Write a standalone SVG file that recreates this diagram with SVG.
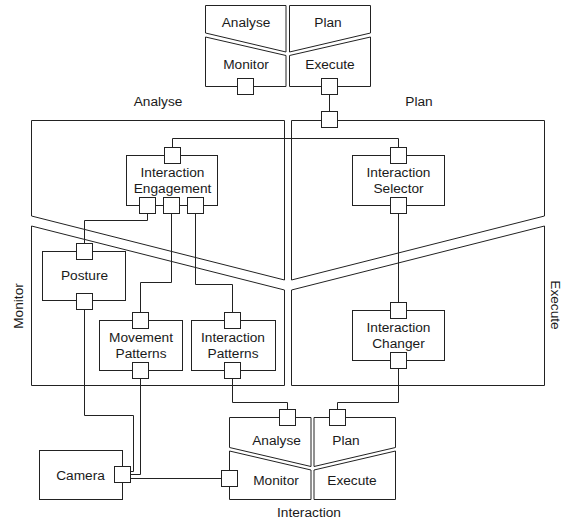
<svg xmlns="http://www.w3.org/2000/svg" width="561" height="523" viewBox="0 0 561 523">
<style>
.r{fill:#fff;stroke:#222;stroke-width:1}
.n{fill:#fff;stroke:#222;stroke-width:1}
.p{fill:#fff;stroke:#222;stroke-width:1}
.c{fill:none;stroke:#222;stroke-width:1}
text{font-family:"Liberation Sans",Arial,sans-serif;font-size:13.7px;fill:#1a1a1a;text-anchor:middle}
</style>
<rect width="561" height="523" fill="#fff"/>
<g id="top-mape">
<polygon class="r" points="205.5,5.5 286,5.5 286,52 205.5,33"/>
<polygon class="r" points="289.5,5.5 370.5,5.5 370.5,33 289.5,52"/>
<polygon class="r" points="205.5,37 286,55.5 286,86.5 205.5,86.5"/>
<polygon class="r" points="289.5,55.5 370.5,37 370.5,86.5 289.5,86.5"/>
<text x="246" y="26.5">Analyse</text>
<text x="328" y="26.5">Plan</text>
<text x="246" y="69">Monitor</text>
<text x="330" y="69">Execute</text>
</g>
<g id="regions">
<polygon class="r" points="31.5,120.5 284.5,120.5 284.5,280 31.5,216"/>
<polygon class="r" points="291.5,120.5 544.5,120.5 544.5,216 291.5,280"/>
<polygon class="r" points="31.5,226 284.5,290 284.5,385.5 31.5,385.5"/>
<polygon class="r" points="291.5,290 544.5,226 544.5,385.5 291.5,385.5"/>
<text x="158" y="106">Analyse</text>
<text x="419" y="106">Plan</text>
<text transform="translate(22.5,306) rotate(-90)">Monitor</text>
<text transform="translate(550.5,305) rotate(90)">Execute</text>
</g>
<g id="interaction-mape">
<polygon class="r" points="229.5,417.5 311,417.5 311,466.5 229.5,447.5"/>
<polygon class="r" points="314,417.5 395.5,417.5 395.5,447.5 314,466.5"/>
<polygon class="r" points="229.5,451 311,470 311,499.5 229.5,499.5"/>
<polygon class="r" points="314,470 395.5,451 395.5,499.5 314,499.5"/>
<text x="276.5" y="445">Analyse</text>
<text x="346" y="445">Plan</text>
<text x="276" y="485">Monitor</text>
<text x="352" y="485">Execute</text>
<text x="309" y="517">Interaction</text>
</g>
<g id="connectors">
<path class="c" d="M329.5,94.5 V111.5"/>
<path class="c" d="M172.5,147.5 V138.5 H398.5 V147.5"/>
<path class="c" d="M147.5,213.5 V220.5 H84.5 V243.5"/>
<path class="c" d="M171.5,213.5 V282.5 H140.5 V312.5"/>
<path class="c" d="M195.5,213.5 V284.5 H232.5 V312.5"/>
<path class="c" d="M398.5,213.5 V302.5"/>
<path class="c" d="M398.5,368.5 V402.5 H337.5 V409.5"/>
<path class="c" d="M232.5,378.5 V402.5 H287.5 V409.5"/>
<path class="c" d="M84.5,309.5 V415.5 H133.5 V471.5 H130.5"/>
<path class="c" d="M140.5,378.5 V474.5 H130.5"/>
<path class="c" d="M130.5,478.5 H221.5"/>
</g>
<g id="ports-blocks">
<rect class="p" x="237.5" y="78.5" width="16" height="16"/>
<rect class="p" x="321.5" y="78.5" width="16" height="16"/>
<rect class="p" x="321.5" y="111.5" width="16" height="16"/>
<rect class="p" x="279.5" y="409.5" width="16" height="16"/>
<rect class="p" x="329.5" y="409.5" width="16" height="16"/>
<rect class="p" x="221.5" y="470.5" width="16" height="16"/>
</g>
<g id="interaction-engagement">
<rect class="n" x="126.5" y="155.5" width="91" height="50"/>
<text x="172.5" y="176.5">Interaction</text>
<text x="172.5" y="192.5">Engagement</text>
<rect class="p" x="164.5" y="147.5" width="16" height="16"/>
<rect class="p" x="139.5" y="197.5" width="16" height="16"/>
<rect class="p" x="163.5" y="197.5" width="16" height="16"/>
<rect class="p" x="187.5" y="197.5" width="16" height="16"/>
</g>
<g id="interaction-selector">
<rect class="n" x="352.5" y="155.5" width="92" height="50"/>
<text x="398.5" y="176.5">Interaction</text>
<text x="398.5" y="192.5">Selector</text>
<rect class="p" x="390.5" y="147.5" width="16" height="16"/>
<rect class="p" x="390.5" y="197.5" width="16" height="16"/>
</g>
<g id="interaction-changer">
<rect class="n" x="352.5" y="310.5" width="92" height="50"/>
<text x="398.5" y="331.5">Interaction</text>
<text x="398.5" y="348">Changer</text>
<rect class="p" x="390.5" y="302.5" width="16" height="16"/>
<rect class="p" x="390.5" y="352.5" width="16" height="16"/>
</g>
<g id="posture">
<rect class="n" x="42.5" y="251.5" width="83" height="49"/>
<text x="84.5" y="280">Posture</text>
<rect class="p" x="76.5" y="243.5" width="16" height="16"/>
<rect class="p" x="76.5" y="293.5" width="16" height="16"/>
</g>
<g id="movement-patterns">
<rect class="n" x="99.5" y="320.5" width="83" height="50"/>
<text x="141" y="341.5">Movement</text>
<text x="141" y="358">Patterns</text>
<rect class="p" x="132.5" y="312.5" width="16" height="16"/>
<rect class="p" x="132.5" y="362.5" width="16" height="16"/>
</g>
<g id="interaction-patterns">
<rect class="n" x="191.5" y="320.5" width="84" height="50"/>
<text x="233" y="341.5">Interaction</text>
<text x="233" y="358">Patterns</text>
<rect class="p" x="224.5" y="312.5" width="16" height="16"/>
<rect class="p" x="224.5" y="362.5" width="16" height="16"/>
</g>
<g id="camera">
<rect class="n" x="39.5" y="450.5" width="83" height="49"/>
<text x="80.5" y="479.5">Camera</text>
<rect class="p" x="114.5" y="466.5" width="16" height="16"/>
</g>
</svg>
